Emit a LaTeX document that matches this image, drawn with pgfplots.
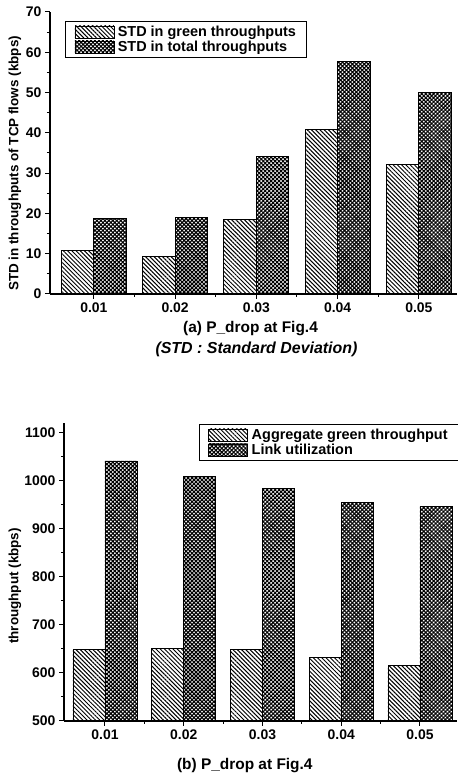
\documentclass[border=0pt]{standalone}
\usepackage{fontspec}
\setmainfont{Liberation Sans}
\usepackage{pgfplots}
\pgfplotsset{compat=1.18}
\usetikzlibrary{patterns.meta}

\pgfplotsset{
  mybars/.style={
    scale only axis,
    axis lines*=left,
    axis line style={-,line width=1.1bp},
    ybar=0pt,
    tick align=outside,
    major tick length=5bp,
    minor tick length=3bp,
    every tick/.style={black,line width=1bp},
    xtick={0,1,2,3,4},
    xticklabels={0.01,0.02,0.03,0.04,0.05},
    minor xtick={0.5,1.5,2.5,3.5},
    minor y tick num=1,
    ticklabel style={font=\fontsize{14}{15}\selectfont\bfseries},
    /pgf/number format/assume math mode=true,
    /pgf/number format/1000 sep={},
    label style={font=\fontsize{13.5}{15}\selectfont\bfseries},
    legend cell align=left,
    legend image code/.code={\draw[##1,line width=0.8bp] (0bp,-6bp) rectangle (39bp,6bp);},
    legend style={draw=black,line width=0.9bp,font=\fontsize{14.5}{16}\selectfont\bfseries,
      inner xsep=9bp, inner ysep=3bp, nodes={inner sep=1.5bp},
      /tikz/every odd column/.append style={column sep=2bp}},
  },
  gstyle/.style={draw=black,line width=0.9bp,pattern={Lines[angle=-45,distance=3bp,line width=1bp]}},
  tstyle/.style={draw=black,line width=0.9bp,pattern={Hatch[angle=45,distance=2.8bp,line width=1.1bp]}},
}

\begin{document}
\begin{tikzpicture}
\useasboundingbox (0,0) rectangle (458bp,773bp);
\begin{axis}[mybars, at={(50bp,479bp)}, anchor=south west,
  width=407bp, height=282bp,
  xmin=-0.54, xmax=4.47, ymin=0, ymax=70, ytick={0,10,...,70},
  bar width=32.5bp,
  ylabel={STD in throughputs of TCP flows (kbps)},
  ylabel style={at={(axis description cs:-0.086,0.463)},anchor=center},
  xlabel={(a) P\_drop at Fig.4},
  xlabel style={at={(axis description cs:0.4926,-0.124)},anchor=center,font=\fontsize{15.5}{17}\selectfont\bfseries},
  legend style={at={(axis description cs:0.037,0.968)},anchor=north west},
]
\addplot[gstyle] coordinates {(0,10.9) (1,9.4) (2,18.6) (3,40.8) (4,32.1)};
\addplot[tstyle] coordinates {(0,18.8) (1,19.0) (2,34.2) (3,57.7) (4,50.1)};
\legend{STD in green throughputs, STD in total throughputs}
\end{axis}
\node[font=\fontsize{16}{18}\selectfont\bfseries\itshape] at (256.5bp,424bp) {(STD : Standard Deviation)};

\begin{axis}[mybars, at={(64bp,52bp)}, anchor=south west,
  width=393bp, height=298bp,
  xmin=-0.52, xmax=4.47, ymin=500, ymax=1120, ytick={500,600,...,1100},
  bar width=32bp,
  ylabel={throughput (kbps)},
  ylabel style={at={(axis description cs:-0.125,0.453)},anchor=center},
  xlabel={(b) P\_drop at Fig.4},
  xlabel style={at={(axis description cs:0.46,-0.148)},anchor=center,font=\fontsize{15.5}{17}\selectfont\bfseries},
  legend style={at={(axis description cs:0.3435,0.9966)},anchor=north west},
]
\addplot[gstyle] coordinates {(0,648) (1,651) (2,648) (3,633) (4,615)};
\addplot[tstyle] coordinates {(0,1041) (1,1009) (2,984) (3,955) (4,946)};
\legend{Aggregate green throughput, Link utilization}
\end{axis}
\end{tikzpicture}
\end{document}
